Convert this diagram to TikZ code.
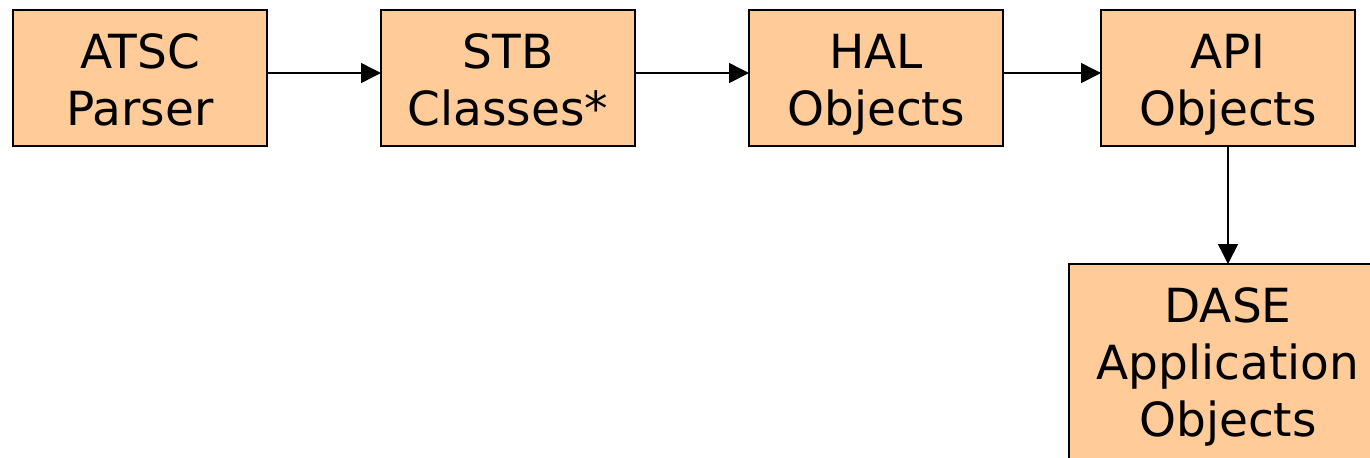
\documentclass[tikz,border=0pt]{standalone}
\usepackage{fontspec}
\setmainfont{DejaVu Sans}
\usetikzlibrary{arrows.meta, positioning}

\definecolor{peach}{HTML}{FFCC99}

\begin{document}
\begin{tikzpicture}[x=0.5pt, y=-0.5pt,
  >={Triangle[length=10pt, width=10pt]},
  box/.style={draw=black, line width=1.3pt, fill=peach, inner sep=0pt, outer sep=0pt,
    minimum width=127pt, minimum height=68pt, align=center,
    text height=57.5pt, text depth=10.5pt,
    font=\fontsize{23.5pt}{28.5pt}\selectfont},
  arrow/.style={->, line width=0.75pt}
]
\useasboundingbox (0,0) rectangle (1370,457);
\clip (0,0) rectangle (1370,457);

\node [box] (atsc) at (140,78) {ATSC\\Parser};
\node [box, right=57pt of atsc] (stb) {STB\\Classes*};
\node [box, right=57pt of stb] (hal) {HAL\\Objects};
\node [box, right=49pt of hal] (api) {API\\Objects};
\node [box, below=59pt of api, minimum width=159pt, minimum height=99pt,
  text height=86pt, text depth=13pt] (dase) {DASE\\Application\\Objects};

\draw[arrow] ([yshift=2.5pt]atsc.east) -- ([yshift=2.5pt]stb.west);
\draw[arrow] ([yshift=2.5pt]stb.east) -- ([yshift=2.5pt]hal.west);
\draw[arrow] ([yshift=2.5pt]hal.east) -- ([yshift=2.5pt]api.west);
\draw[arrow] (api) -- (dase);
\end{tikzpicture}
\end{document}
